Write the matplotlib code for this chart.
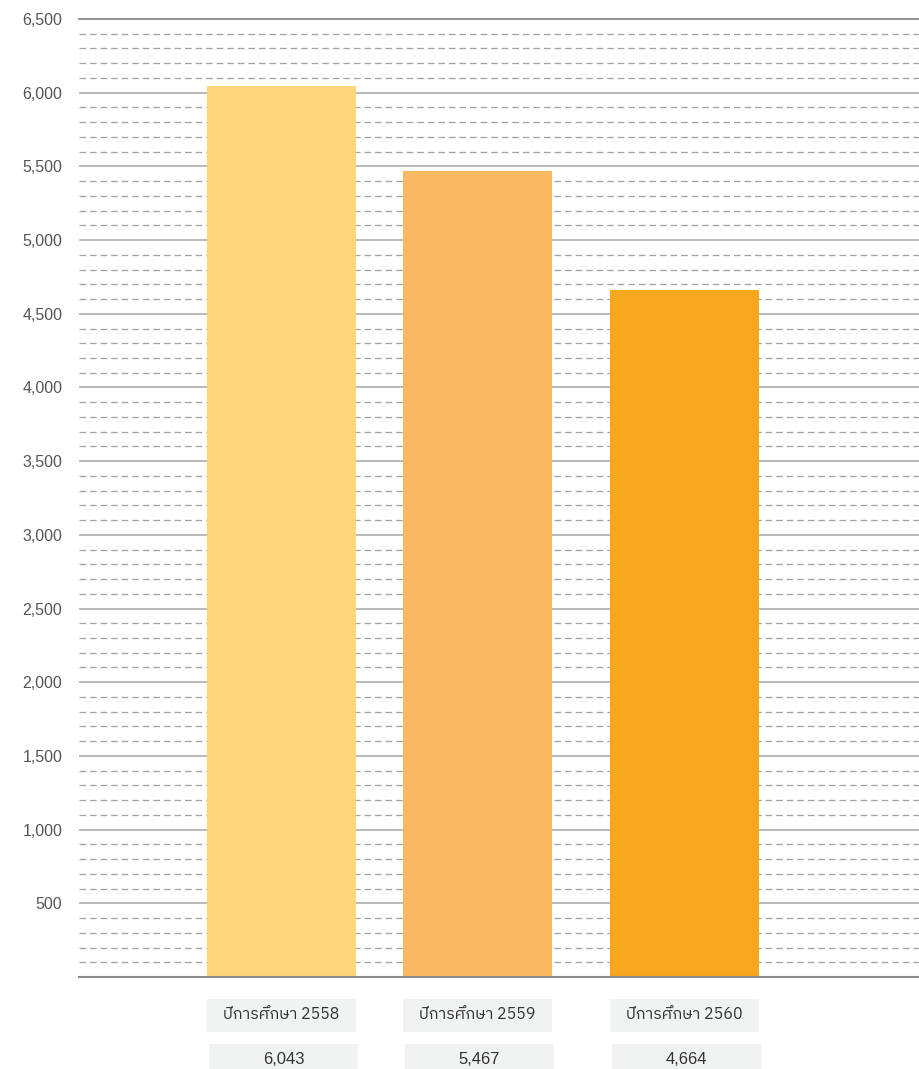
import matplotlib
matplotlib.use("Agg")
import matplotlib.pyplot as plt
from matplotlib import font_manager, ft2font
from matplotlib.patches import Rectangle

# ---- data ----
categories = ["ปีการศึกษา 2558", "ปีการศึกษา 2559", "ปีการศึกษา 2560"]
values = [6043, 5467, 4664]
value_labels = ["6,043", "5,467", "4,664"]
yticks = [500, 1000, 1500, 2000, 2500, 3000, 3500, 4000, 4500, 5000, 5500, 6000, 6500]
ytick_labels = ["500", "1,000", "1,500", "2,000", "2,500", "3,000", "3,500",
                "4,000", "4,500", "5,000", "5,500", "6,000", "6,500"]
colors = ["#FDD67C", "#FBB862", "#F7A61D"]

# ---- fonts ----
def find_thai_font():
    cands = []
    for f in font_manager.fontManager.ttflist:
        try:
            ft = ft2font.FT2Font(f.fname)
            if ord("ป") in ft.get_charmap():
                cands.append(f)
        except Exception:
            pass
    if not cands:
        return None
    def score(f):
        s = 0
        n = f.name.lower()
        if "thai" in n:
            s -= 10
        if "cond" in f.fname.lower() or "narrow" in f.fname.lower():
            s -= 5
        if f.weight not in (400, "normal", "regular"):
            s += 3
        if f.style != "normal":
            s += 5
        return s
    cands.sort(key=score)
    return cands[0].name

thai = find_thai_font()
names = {f.name for f in font_manager.fontManager.ttflist}
narrow = "Liberation Sans Narrow" if "Liberation Sans Narrow" in names else "Liberation Sans"
thai_family = ([thai] if thai else []) + [narrow, "DejaVu Sans"]

W, H = 920, 1069
fig = plt.figure(figsize=(W / 100, H / 100), dpi=100)
x0, x1, ytop, ybot = 79, 920, 19, 977
ax = fig.add_axes([x0 / W, 1 - ybot / H, (x1 - x0) / W, (ybot - ytop) / H])
ax.set_xlim(0, x1 - x0)
ax.set_ylim(0, 6500)

# gridlines
for v in range(100, 6500, 100):
    if v % 500 == 0:
        ax.axhline(v, color="#b3b3b3", lw=1.3, zorder=1)
    else:
        ax.axhline(v, color="#a3a3a3", lw=0.95, ls=(0, (5, 3)), zorder=1)
ax.axhline(6500, color="#8a8a8a", lw=1.3, zorder=1, clip_on=False)
ax.axhline(0, color="#8a8a8a", lw=1.5, zorder=3, clip_on=False)

centers = [202.5, 398.5, 605.5]
bw = 149
ax.bar(centers, values, width=bw, color=colors, zorder=2)

for s in ax.spines.values():
    s.set_visible(False)
ax.set_xticks([])
ax.set_yticks(yticks)
ax.set_yticklabels(ytick_labels, family=[narrow, "DejaVu Sans"], fontsize=11.5, color="#555555")
ax.tick_params(axis="y", length=0, pad=12)

# label boxes below chart (figure pixel coordinates)
def fig_box(px, py, pw, ph):
    return Rectangle((px / W, 1 - (py + ph) / H), pw / W, ph / H,
                     transform=fig.transFigure, facecolor="#F1F2F2", edgecolor="none")

for c, cat, vl in zip(centers, categories, value_labels):
    cx = x0 + c
    fig.patches.append(fig_box(cx - bw / 2, 999, bw, 33))
    fig.text(cx / W, 1 - 1014 / H, cat, ha="center", va="center",
             fontsize=11.5, color="#333333", family=thai_family)
    fig.patches.append(fig_box(cx - bw / 2 + 2, 1044, bw, 30))
    fig.text((cx + 2) / W, 1 - 1059 / H, vl, ha="center", va="center",
             fontsize=12, color="#333333", family=[narrow, "DejaVu Sans"])

fig.savefig("out.png", dpi=100, facecolor="white")
